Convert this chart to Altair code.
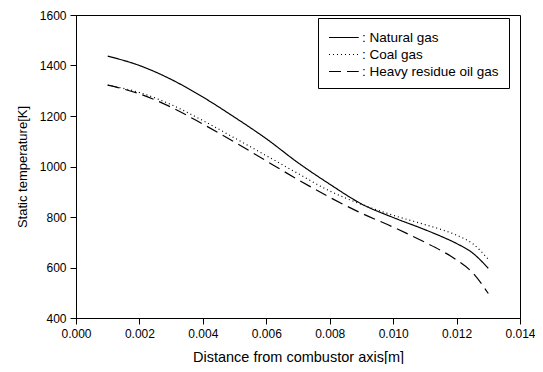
import altair as alt
import pandas as pd

x_vals = [0.001, 0.002, 0.003, 0.004, 0.005, 0.006, 0.007, 0.008, 0.009, 0.010, 0.011, 0.0115, 0.012, 0.0125, 0.013]
natural = [1437, 1400, 1345, 1275, 1195, 1110, 1015, 930, 852, 798, 750, 724, 695, 658, 597]
coal = [1322, 1293, 1245, 1182, 1113, 1043, 972, 903, 850, 807, 770, 751, 728, 695, 633]
heavy = [1322, 1288, 1235, 1168, 1097, 1022, 948, 878, 815, 760, 700, 668, 630, 580, 497]

names = [": Natural gas", ": Coal gas", ": Heavy residue oil gas"]
rows = []
for name, series in zip(names, [natural, coal, heavy]):
    for xv, yv in zip(x_vals, series):
        rows.append({"x": xv, "T": yv, "fuel": name})
df = pd.DataFrame(rows)

font = "Liberation Sans"

chart = alt.Chart(df).mark_line(color="black", strokeWidth=1.2, interpolate="monotone").encode(
    x=alt.X("x:Q", title="Distance from combustor axis[m]",
            scale=alt.Scale(domain=[0, 0.014], nice=False),
            axis=alt.Axis(values=[0, 0.002, 0.004, 0.006, 0.008, 0.010, 0.012, 0.014], format=".3f",
                          grid=False, tickSize=6, labelPadding=4, titlePadding=11,
                          labelFlush=False, titleFontSize=14.5)),
    y=alt.Y("T:Q", title="Static temperature[K]",
            scale=alt.Scale(domain=[400, 1600], nice=False),
            axis=alt.Axis(values=[400, 600, 800, 1000, 1200, 1400, 1600], format="d", grid=False,
                          tickSize=6, labelPadding=4, titlePadding=10, labelFlush=False)),
    strokeDash=alt.StrokeDash("fuel:N", sort=names,
                              scale=alt.Scale(domain=names, range=[[1, 0], [1, 3], [12, 6]]),
                              legend=alt.Legend(title=None, orient="none", legendX=242, legendY=3,
                                                symbolType="M-1,0H2.5", symbolSize=289,
                                                symbolStrokeWidth=1.2, symbolStrokeColor="black",
                                                symbolFillColor="transparent",
                                                labelFontSize=13.5, labelFont=font, labelColor="black",
                                                strokeColor="black", padding=10, labelOffset=15,
                                                rowPadding=1, fillColor="white")),
).properties(
    width=444, height=303,
    autosize=alt.AutoSizeParams(type="none"),
    padding={"left": 68, "top": 7, "right": 15, "bottom": 46},
).configure_view(
    stroke="black", strokeWidth=1
).configure_axis(
    domainColor="black", tickColor="black", labelColor="black", titleColor="black",
    labelFont=font, titleFont=font, labelFontSize=12, titleFontSize=13,
    titleFontWeight="normal"
)

chart.save("out.html", embed_options={"renderer": "svg", "actions": False})
